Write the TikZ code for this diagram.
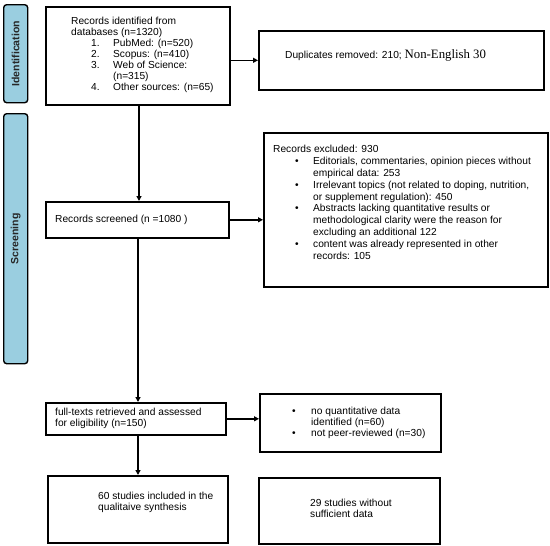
\documentclass[tikz,border=0pt]{standalone}
\usepackage{fontspec}
\setmainfont{Liberation Sans}
\newfontfamily\serifnum{Liberation Serif}
\usetikzlibrary{arrows.meta,calc}
\definecolor{barblue}{RGB}{154,206,224}
\tikzset{
  box/.style={draw=black, line width=1.6pt, inner sep=0pt, anchor=north west},
  bar/.style={draw=black, line width=1.4pt, fill=barblue, rounded corners=3pt, inner sep=0pt, anchor=north west},
  txt/.style={inner sep=0pt, anchor=north west, align=left, font=\fontsize{10.2}{11}\selectfont, text=black},
  bartxt/.style={inner sep=0pt, rotate=90, font=\fontsize{10.5}{12}\selectfont\bfseries, text=black!85},
  arr/.style={line width=1.6pt, -{Triangle[length=5pt,width=5pt]}},
}
\begin{document}
\begin{tikzpicture}[x=1pt,y=-1pt]
\useasboundingbox (0,0) rectangle (550,546);
% side bars
\node[bar, minimum width=24pt, minimum height=98pt] (idbar) at (3,4) {};
\node[bartxt] (idlab) at (idbar.center) {Identification};
\node[bar, minimum width=24pt, minimum height=250pt] (scbar) at (3,113) {};
\node[bartxt] (sclab) at (scbar.center) {Screening};
% boxes
\node[box, minimum width=184pt, minimum height=98pt] (b1) at (45,6) {};
\node[box, minimum width=285pt, minimum height=59pt] (b2) at (258,30) {};
\node[box, minimum width=183pt, minimum height=36pt] (scr) at (45,201) {};
\node[box, minimum width=284pt, minimum height=154pt] (exc) at (263,132) {};
\node[box, minimum width=180pt, minimum height=32pt] (ft) at (45,402) {};
\node[box, minimum width=181pt, minimum height=58pt] (nq) at (259,393) {};
\node[box, minimum width=180pt, minimum height=67pt] (inc) at (47,475) {};
\node[box, minimum width=181pt, minimum height=66pt] (ws) at (258,477) {};
% texts
\node[txt] (t1) at (71,17.3) {Records identified from\\databases (n=1320)\\
\hspace*{20pt}\makebox[22pt][l]{1.}PubMed: (n=520)\\
\hspace*{20pt}\makebox[22pt][l]{2.}Scopus: (n=410)\\
\hspace*{20pt}\makebox[22pt][l]{3.}Web of Science:\\
\hspace*{42pt}(n=315)\\
\hspace*{20pt}\makebox[22pt][l]{4.}Other sources: (n=65)};
\node[txt, anchor=base west] (t2) at (285,58.5) {Duplicates removed: 210; {\serifnum\fontsize{12.8}{14}\selectfont Non-English 30}};
\node[txt, anchor=base west] (t3) at (55,222.5) {Records screened (n =1080 )};
\node[txt, font=\fontsize{10.2}{11.8}\selectfont] (t4) at (273,145.3) {Records excluded: 930\\
\hspace*{22pt}\makebox[18pt][l]{•}Editorials, commentaries, opinion pieces without\\
\hspace*{40pt}empirical data: 253\\
\hspace*{22pt}\makebox[18pt][l]{•}Irrelevant topics (not related to doping, nutrition,\\
\hspace*{40pt}or supplement regulation): 450\\
\hspace*{22pt}\makebox[18pt][l]{•}Abstracts lacking quantitative results or\\
\hspace*{40pt}methodological clarity were the reason for\\
\hspace*{40pt}excluding an additional 122\\
\hspace*{22pt}\makebox[18pt][l]{•}content was already represented in other\\
\hspace*{40pt}records: 105};
\node[txt] (t5) at (55,408.3) {full-texts retrieved and assessed\\for eligibility (n=150)};
\node[txt] (t6) at (292,407.3) {\makebox[19pt][l]{•}no quantitative data\\
\hspace*{19pt}identified (n=60)\\
\makebox[19pt][l]{•}not peer-reviewed (n=30)};
\node[txt] (t7) at (98,492.3) {60 studies included in the\\qualitaive synthesis};
\node[txt] (t8) at (310,499.3) {29 studies without\\sufficient data};
% connectors
\coordinate (vx) at (139,0);
\coordinate (vy) at (138,0);
\draw[arr] (b1.south -| vx) -- (scr.north -| vx);
\draw[arr] (scr.south -| vy) -- (ft.north -| vy);
\draw[arr] (ft.south -| vy) -- (inc.north -| vy);
\draw[arr] (b1.east |- b2.west) -- (b2.west);
\draw[arr] (scr.east) -- (scr.east -| exc.west);
\draw[arr] (ft.east) -- (ft.east -| nq.west);
\end{tikzpicture}
\end{document}
